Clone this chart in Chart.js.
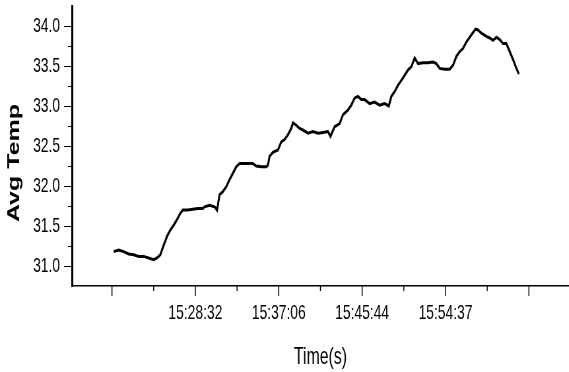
<!DOCTYPE html>
<html>
<head>
<meta charset="utf-8">
<script src="https://cdn.jsdelivr.net/npm/chart.js@4.4.1/dist/chart.umd.min.js"></script>
<style>
  html, body { margin: 0; padding: 0; background: #fff; overflow: hidden; }
  #wrap { width: 569px; height: 372px; overflow: hidden; position: relative; background: #fff; }
  /* the plot is laid out wide and drawn narrow, giving the condensed lettering */
  #c { position: absolute; left: 0; top: 0; transform: scaleX(0.66); transform-origin: 0 0; }
</style>
</head>
<body>
<div id="wrap"><canvas id="c" width="862" height="372"></canvas></div>
<script>
// sample number along the run
const sampleIdx = [2,8,14,20,26,32,38,44,50,54,
  58,62,66,70,74,78,82,85,91,97,
  103,109,111,117,123,126,129,133,137,141,
  145,149,153,159,165,169,173,179,185,187,
  189,193,199,203,207,211,215,217,221,225,
  229,235,241,247,253,259,262,267,273,277,
  283,287,291,295,299,303,309,315,321,327,
  332,335,339,343,349,355,359,363,367,373,
  379,385,389,393,399,405,409,413,417,421,
  425,431,436,439,443,449,453,457,461,465,
  469,473,477,481,485,488];

// average temperature at each sample
const avgTemp = [31.18,31.20,31.18,31.15,31.14,31.12,31.12,31.10,31.08,31.10,
  31.14,31.26,31.37,31.45,31.51,31.58,31.66,31.70,31.70,31.71,
  31.72,31.72,31.74,31.76,31.74,31.70,31.89,31.93,31.99,32.08,
  32.16,32.24,32.28,32.28,32.28,32.28,32.25,32.24,32.24,32.26,
  32.37,32.42,32.45,32.55,32.58,32.64,32.72,32.79,32.76,32.72,
  32.70,32.66,32.68,32.66,32.67,32.68,32.62,32.74,32.78,32.89,
  32.95,33.01,33.10,33.12,33.08,33.08,33.03,33.05,33.01,33.03,
  33.00,33.12,33.18,33.26,33.35,33.45,33.49,33.60,33.53,33.54,
  33.54,33.55,33.53,33.47,33.46,33.46,33.51,33.62,33.68,33.72,
  33.80,33.89,33.96,33.95,33.91,33.87,33.85,33.82,33.86,33.83,
  33.78,33.78,33.68,33.58,33.47,33.40];

// clock-time labels at selected sample numbers
const timeTickPos = [100, 200, 300, 400];
const timeTickText = ['15:28:32', '15:37:06', '15:45:44', '15:54:37'];

const FONT = '"Liberation Sans", Arial, sans-serif';

// Origin-style tick marks (long major, short minor) and the rotated y title
const axisDecor = {
  id: 'axisDecor',
  afterDraw(chart) {
    const { ctx, chartArea: a, scales: { x, y } } = chart;
    ctx.save();
    ctx.strokeStyle = '#000';
    ctx.lineWidth = 1;
    y.ticks.forEach(t => {
      const v = t.value;
      if (v <= y.min + 1e-9 || v >= y.max - 1e-9) return;
      const q = Math.round(v * 4);
      if (Math.abs(v * 4 - q) > 1e-6) return;
      const len = (q % 2 === 0) ? 12 : 6;
      const py = Math.round(y.getPixelForValue(v)) + 0.5;
      ctx.beginPath(); ctx.moveTo(a.left - len, py); ctx.lineTo(a.left, py); ctx.stroke();
    });
    ctx.lineWidth = 1.5;
    x.ticks.forEach(t => {
      const v = t.value;
      if (v % 50 !== 0) return;
      const len = (v % 100 === 0) ? 10 : 5;
      const px = x.getPixelForValue(v);
      ctx.beginPath(); ctx.moveTo(px, a.bottom); ctx.lineTo(px, a.bottom + len); ctx.stroke();
    });
    ctx.fillStyle = '#000';
    ctx.font = 'bold 25px ' + FONT;
    ctx.textAlign = 'center';
    ctx.textBaseline = 'alphabetic';
    ctx.translate(29, 163);
    ctx.rotate(-Math.PI / 2);
    ctx.fillText('Avg Temp', 0, 0);
    ctx.restore();
  }
};

new Chart(document.getElementById('c'), {
  type: 'line',
  data: {
    datasets: [{
      data: sampleIdx.map((s, i) => ({ x: s, y: avgTemp[i] })),
      borderColor: '#000',
      borderWidth: 3,
      pointRadius: 0,
      tension: 0,
      fill: false
    }]
  },
  options: {
    responsive: false,
    animation: false,
    layout: { padding: { top: 6, right: 0, left: 0, bottom: 0 } },
    plugins: { legend: { display: false }, tooltip: { enabled: false } },
    scales: {
      x: {
        type: 'linear',
        min: -48,
        max: 548,
        afterFit(s) { s.height = 86; s.paddingLeft = 0; s.paddingRight = 0; },
        grid: { display: false, drawTicks: false },
        border: { display: true, color: '#000', width: 1.5 },
        ticks: {
          stepSize: 50,
          autoSkip: false,
          maxRotation: 0,
          minRotation: 0,
          padding: 15,
          color: '#000',
          font: { family: FONT, size: 21 },
          callback(v) {
            const k = timeTickPos.indexOf(v);
            return k >= 0 ? timeTickText[k] : '';
          }
        },
        title: {
          display: true,
          text: 'Time(s)',
          color: '#000',
          font: { family: FONT, size: 24 },
          padding: { top: 0, bottom: 0 }
        }
      },
      y: {
        type: 'linear',
        min: 30.75,
        max: 34.25,
        afterFit(s) { s.width = 109; s.paddingTop = 0; s.paddingBottom = 0; },
        grid: { display: false, drawTicks: false },
        border: { display: true, color: '#000', width: 3 },
        ticks: {
          stepSize: 0.25,
          autoSkip: false,
          padding: 18,
          color: '#000',
          font: { family: FONT, size: 21 },
          callback(v) {
            return Math.abs(v * 2 - Math.round(v * 2)) < 1e-6 ? v.toFixed(1) : '';
          }
        }
      }
    }
  },
  plugins: [axisDecor]
});
</script>
</body>
</html>
